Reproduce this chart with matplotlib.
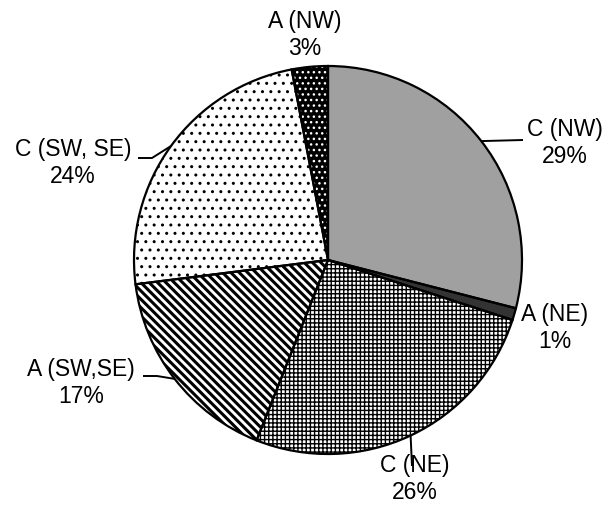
import matplotlib
matplotlib.use("Agg")
import matplotlib.pyplot as plt
import numpy as np

plt.rcParams['font.family'] = ['Liberation Sans', 'DejaVu Sans']

categories = ["C (NW)", "A (NE)", "C (NE)", "A (SW,SE)", "C (SW, SE)", "A (NW)"]
values = [29, 1, 26, 17, 24, 3]
pct_labels = ["29%", "1%", "26%", "17%", "24%", "3%"]

facecolors = ["#a0a0a0", "#333333", "white", "white", "white", "black"]
hatches = [None, None, "++++", "\\\\\\\\", "..", "..."]
hatchcolors = ["#a0a0a0", "#333333", "black", "black", "black", "white"]
hatch_lw = [1.0, 1.0, 1.0, 2.2, 1.0, 1.0]

W, H = 605, 516
CX, CY, R = 328, 260, 194

fig = plt.figure(figsize=(W / 100, H / 100), dpi=100)
ax = fig.add_axes([0, 0, 1, 1])

def px(x, y):
    return ((x - CX) / R, (CY - y) / R)

# filled + hatched wedges
wedges, _ = ax.pie(values, startangle=90, counterclock=False, radius=1,
                   wedgeprops=dict(linewidth=0))
for w, fc, hc, h, lw in zip(wedges, facecolors, hatchcolors, hatches, hatch_lw):
    w.set_facecolor(fc)
    w.set_edgecolor(hc)
    w.set_linewidth(0)
    if h:
        w.set_hatch(h)
        if hasattr(w, "set_hatch_linewidth"):
            w.set_hatch_linewidth(lw)

# outlines
outl, _ = ax.pie(values, startangle=90, counterclock=False, radius=1,
                 wedgeprops=dict(facecolor="none", edgecolor="black", linewidth=1.6))

# label positions (center of text block, px) and leader line routes
label_pos = [(565, 143), (555, 328), (415, 479), (81, 383), (73, 163), (305, 35)]
leader_end = [[(523, 140)], None, [(412, 466)], [(157, 376), (143, 376)],
              [(152, 158), (138, 158)], None]

for w, cat, pct, pos, le in zip(wedges, categories, pct_labels, label_pos, leader_end):
    tx, ty = px(*pos)
    ax.text(tx, ty, cat + "\n" + pct, ha="center", va="center", fontsize=16.5,
            linespacing=1.2, color="black")
    if le:
        mid = np.deg2rad((w.theta1 + w.theta2) / 2)
        pts = [(np.cos(mid), np.sin(mid))] + [px(*p) for p in le]
        xs, ys = zip(*pts)
        ax.plot(xs, ys, color="black", lw=1.4, solid_capstyle="butt")

x0, y0 = px(0, H)
x1, y1 = px(W, 0)
ax.set_xlim(x0, x1)
ax.set_ylim(y0, y1)
ax.set_aspect("auto")
ax.axis("off")

fig.savefig("out.png", dpi=100)
